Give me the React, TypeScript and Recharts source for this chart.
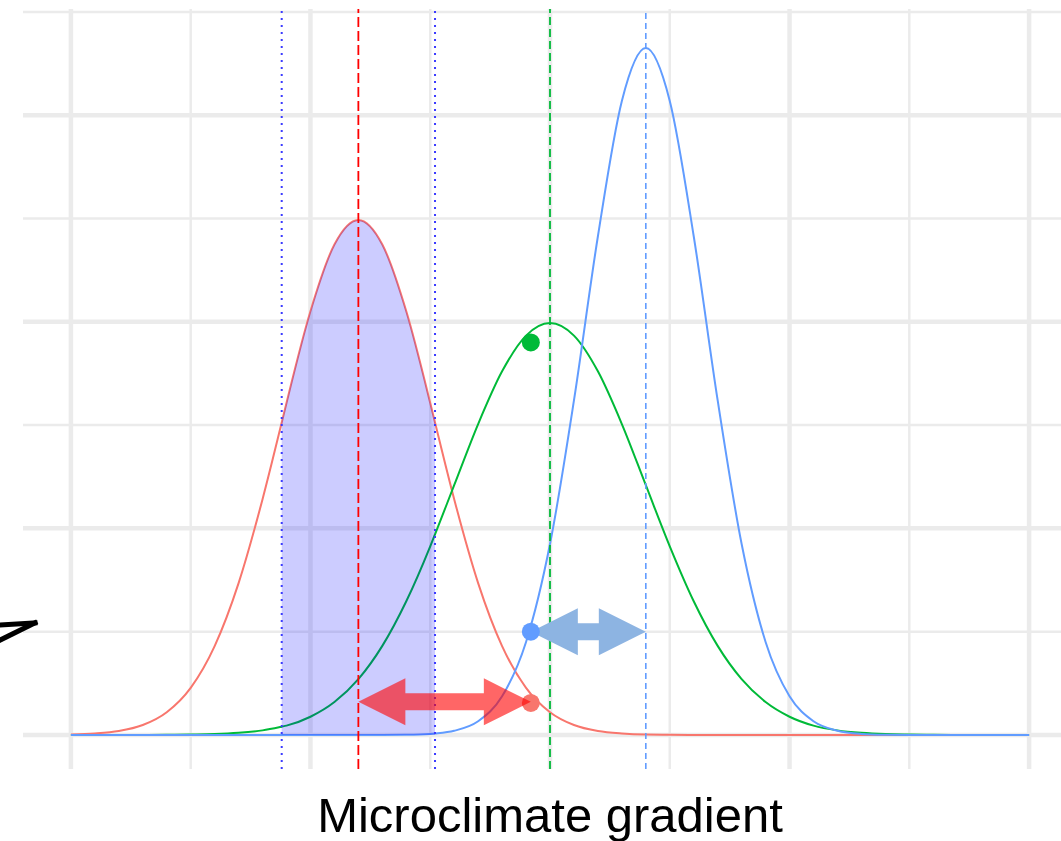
import React from "react";
import {
    ComposedChart,
    Line,
    Area,
    XAxis,
    YAxis,
    ReferenceLine,
    ReferenceDot,
} from "recharts";

// x positions along the gradient (4.4 and 7.6 are the shade limits)
const xValues = [
    0, 0.5, 1, 1.5, 2, 2.5, 3, 3.5, 4, 4.4, 4.5, 5, 5.5, 6, 6.5, 7, 7.5, 7.6, 8, 8.5,
    9, 9.5, 10, 10.5, 11, 11.5, 12, 12.5, 13, 13.5, 14, 14.5, 15, 15.5, 16, 16.5, 17,
    17.5, 18, 18.5, 19, 19.5, 20,
];

const redDensity = [
    0.0002, 0.0007, 0.0019, 0.0048, 0.011, 0.0228, 0.043, 0.0735, 0.1141, 0.1512, 0.1607,
    0.2051, 0.2374, 0.2493, 0.2374, 0.2051, 0.1607, 0.1512, 0.1141, 0.0735, 0.043, 0.0228,
    0.011, 0.0048, 0.0019, 0.0007, 0.0002, 0.0001, 0, 0, 0, 0, 0, 0, 0, 0, 0, 0, 0, 0, 0, 0, 0,
];

const greenDensity = [
    0, 0, 0, 0, 0.0001, 0.0002, 0.0004, 0.001, 0.0022, 0.004, 0.0045, 0.0088, 0.0159, 0.027,
    0.0431, 0.0647, 0.0913, 0.0971, 0.1209, 0.1505, 0.176, 0.1933, 0.1994, 0.1933, 0.176,
    0.1505, 0.1209, 0.0913, 0.0647, 0.0431, 0.027, 0.0159, 0.0088, 0.0045, 0.0022, 0.001,
    0.0004, 0.0002, 0.0001, 0, 0, 0, 0,
];

const blueDensity = [
    0, 0, 0, 0, 0, 0, 0, 0, 0, 0, 0, 0, 0, 0, 0, 0.0001, 0.0005, 0.0007, 0.002, 0.0066,
    0.0187, 0.045, 0.0924, 0.1619, 0.2414, 0.3069, 0.3325, 0.3069, 0.2414, 0.1619, 0.0924,
    0.045, 0.0187, 0.0066, 0.002, 0.0005, 0.0001, 0, 0, 0, 0, 0, 0,
];

const shadeRange = [4.4, 7.6];

const xMajor = [0, 5, 10, 15, 20];
const xMinor = [2.5, 7.5, 12.5, 17.5];
const yMajor = [0, 0.1, 0.2, 0.3];
const yMinor = [0.05, 0.15, 0.25, 0.35];

const redMean = 6;
const greenMean = 10;
const blueMean = 12;

const pointX = 9.6;
const greenPointY = 0.19;
const bluePointY = 0.05;
const redPointY = 0.0155;

const redArrowX = [6, 9.6];
const redArrowY = 0.016;
const blueArrowX = [9.6, 12];
const blueArrowY = 0.0499;

// open arrow head cut off at the left edge
const blackArrowTip = { x: -0.75, y: 0.0542 };
const blackArrowEnds = [
    { x: -1.48, y: 0.0532 },
    { x: -1.48, y: 0.0459 },
];

const rows = xValues.map((x, i) => ({
    x,
    red: redDensity[i],
    green: greenDensity[i],
    blue: blueDensity[i],
    shade: x >= shadeRange[0] && x <= shadeRange[1] ? redDensity[i] : null,
}));

const GRID = "#EBEBEB";
const FONT = "'Liberation Sans', Arial, Helvetica, sans-serif";

const doubleArrow = (fill: string) => (props: any) => {
    const { x1, y1, x2 } = props;
    const hl = 47;
    const hh = 23.5;
    const sh = 8.5;
    const y = y1;
    const pts = [
        [x1, y],
        [x1 + hl, y - hh],
        [x1 + hl, y - sh],
        [x2 - hl, y - sh],
        [x2 - hl, y - hh],
        [x2, y],
        [x2 - hl, y + hh],
        [x2 - hl, y + sh],
        [x1 + hl, y + sh],
        [x1 + hl, y + hh],
    ]
        .map((p) => p.join(","))
        .join(" ");
    return <polygon points={pts} fill={fill} />;
};

export default function App() {
    return (
        <div
            style={{
                position: "absolute",
                left: 0,
                top: 0,
                width: 1061,
                height: 841,
                overflow: "hidden",
                background: "#fff",
            }}
        >
            <ComposedChart
                width={1100}
                height={841}
                data={rows}
                margin={{ top: 9, right: 23, bottom: 0, left: 23 }}
            >
                <XAxis
                    dataKey="x"
                    type="number"
                    domain={[-1, 21]}
                    allowDataOverflow
                    tick={false}
                    tickLine={false}
                    axisLine={false}
                    height={72}
                    label={{
                        value: "Microclimate gradient",
                        position: "insideBottom",
                        offset: 9,
                        fontSize: 49,
                        fill: "#000",
                        fontFamily: FONT,
                    }}
                />
                <YAxis hide type="number" domain={[-0.0165, 0.3514]} allowDataOverflow />

                {yMinor.map((v) => (
                    <ReferenceLine key={"ym" + v} y={v} stroke={GRID} strokeWidth={2.5} zIndex={-100} />
                ))}
                {xMinor.map((v) => (
                    <ReferenceLine key={"xm" + v} x={v} stroke={GRID} strokeWidth={2.5} zIndex={-100} />
                ))}
                {yMajor.map((v) => (
                    <ReferenceLine key={"yM" + v} y={v} stroke={GRID} strokeWidth={4.5} zIndex={-100} />
                ))}
                {xMajor.map((v) => (
                    <ReferenceLine key={"xM" + v} x={v} stroke={GRID} strokeWidth={4.5} zIndex={-100} />
                ))}

                <Line dataKey="red" type="monotone" stroke="#F8766D" strokeWidth={2} dot={false} activeDot={false} isAnimationActive={false} zIndex={100} />
                <Line dataKey="green" type="monotone" stroke="#00BA38" strokeWidth={2} dot={false} activeDot={false} isAnimationActive={false} zIndex={100} />
                <Line dataKey="blue" type="monotone" stroke="#619CFF" strokeWidth={2} dot={false} activeDot={false} isAnimationActive={false} zIndex={100} />

                <Area
                    dataKey="shade"
                    type="monotone"
                    baseValue={0}
                    stroke="none"
                    fill="#0000FF"
                    fillOpacity={0.2}
                    activeDot={false}
                    isAnimationActive={false}
                    zIndex={200}
                />

                <ReferenceLine x={shadeRange[0]} stroke="#3B3BFF" strokeWidth={2} strokeDasharray="2 5" zIndex={300} />
                <ReferenceLine x={shadeRange[1]} stroke="#3B3BFF" strokeWidth={2} strokeDasharray="2 5" zIndex={300} />
                <ReferenceLine x={redMean} stroke="#FF0000" strokeWidth={1.8} strokeDasharray="10 4" zIndex={300} />
                <ReferenceLine x={greenMean} stroke="#00BA38" strokeWidth={1.8} strokeDasharray="8 4" zIndex={300} />
                <ReferenceLine x={blueMean} stroke="#619CFF" strokeWidth={1.6} strokeDasharray="6 4" zIndex={300} />

                <ReferenceDot x={pointX} y={redPointY} r={9} fill="#F8766D" stroke="none" zIndex={400} />

                <ReferenceLine
                    segment={[
                        { x: redArrowX[0], y: redArrowY },
                        { x: redArrowX[1], y: redArrowY },
                    ]}
                    shape={doubleArrow("rgba(255,0,0,0.6)")}
                    zIndex={500}
                />
                <ReferenceLine
                    segment={[
                        { x: blueArrowX[0], y: blueArrowY },
                        { x: blueArrowX[1], y: blueArrowY },
                    ]}
                    shape={doubleArrow("#8DB4E2")}
                    zIndex={500}
                />

                <ReferenceDot x={pointX} y={bluePointY} r={9} fill="#619CFF" stroke="none" zIndex={600} />
                <ReferenceDot x={pointX} y={greenPointY} r={9} fill="#00BA38" stroke="none" zIndex={600} />

                {blackArrowEnds.map((p, i) => (
                    <ReferenceLine
                        key={"ba" + i}
                        segment={[p, blackArrowTip]}
                        ifOverflow="visible"
                        stroke="#000"
                        strokeWidth={5}
                        strokeLinecap="square"
                        zIndex={700}
                    />
                ))}
            </ComposedChart>
        </div>
    );
}
